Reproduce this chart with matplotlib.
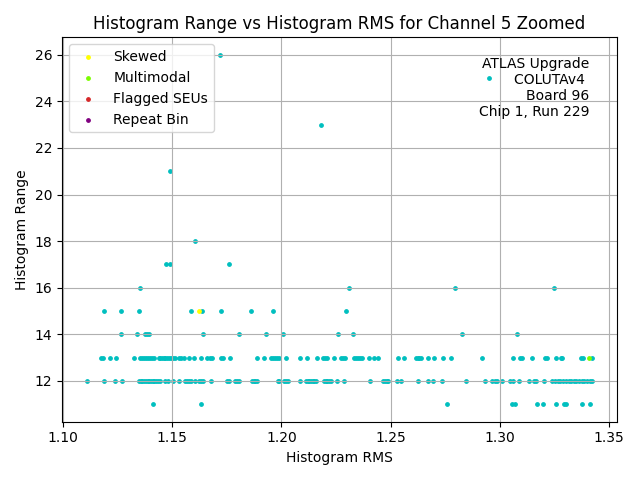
import numpy as np
import matplotlib
matplotlib.use("Agg")
import matplotlib.pyplot as plt

# Histogram RMS values grouped by histogram range (channel 5, zoomed)
rms_range_11 = [1.1411, 1.1630, 1.2757, 1.3058, 1.3069, 1.3173, 1.3199, 1.3257,
                1.3295, 1.3305, 1.3376, 1.3414]
rms_range_12 = [1.1110, 1.1188, 1.1239, 1.1271, 1.1348, 1.1356, 1.1363, 1.1371,
                1.1379, 1.1387, 1.1394, 1.1402, 1.1410, 1.1417, 1.1425, 1.1434,
                1.1443, 1.1468, 1.1480, 1.1502, 1.1532, 1.1560, 1.1569, 1.1578,
                1.1587, 1.1606, 1.1621, 1.1633, 1.1642, 1.1676, 1.1749, 1.1758,
                1.1787, 1.1798, 1.1807, 1.1864, 1.1872, 1.1879, 1.1887, 1.1982,
                1.1991, 1.2012, 1.2021, 1.2032, 1.2086, 1.2113, 1.2121, 1.2128,
                1.2136, 1.2144, 1.2151, 1.2159, 1.2193, 1.2202, 1.2211, 1.2220,
                1.2229, 1.2256, 1.2287, 1.2404, 1.2466, 1.2474, 1.2482, 1.2489,
                1.2528, 1.2550, 1.2624, 1.2673, 1.2693, 1.2734, 1.2844, 1.2931,
                1.2966, 1.2977, 1.2988, 1.3011, 1.3046, 1.3061, 1.3087, 1.3135,
                1.3158, 1.3168, 1.3203, 1.3242, 1.3254, 1.3266, 1.3278, 1.3291,
                1.3303, 1.3317, 1.3329, 1.3339, 1.3352, 1.3364, 1.3376, 1.3388,
                1.3401, 1.3413, 1.3421]
rms_range_13 = [1.1174, 1.1183, 1.1216, 1.1243, 1.1326, 1.1353, 1.1361, 1.1370,
                1.1379, 1.1388, 1.1398, 1.1407, 1.1416, 1.1437, 1.1445, 1.1453,
                1.1460, 1.1468, 1.1477, 1.1486, 1.1495, 1.1505, 1.1514, 1.1532,
                1.1541, 1.1554, 1.1575, 1.1598, 1.1633, 1.1657, 1.1673, 1.1682,
                1.1725, 1.1734, 1.1766, 1.1890, 1.1920, 1.1953, 1.1962, 1.1971,
                1.1980, 1.1989, 1.2020, 1.2083, 1.2115, 1.2161, 1.2190, 1.2200,
                1.2211, 1.2242, 1.2275, 1.2283, 1.2290, 1.2332, 1.2341, 1.2350,
                1.2359, 1.2367, 1.2399, 1.2425, 1.2443, 1.2535, 1.2563, 1.2616,
                1.2624, 1.2631, 1.2639, 1.2670, 1.2699, 1.2739, 1.2777, 1.2917,
                1.3060, 1.3095, 1.3102, 1.3147, 1.3208, 1.3217, 1.3257, 1.3280,
                1.3287, 1.3372, 1.3382, 1.3422]
rms_range_14 = [1.1266, 1.1339, 1.1373, 1.1384, 1.1394, 1.1642, 1.1807, 1.1931,
                1.2005, 1.2261, 1.2326, 1.2826, 1.3078]
rms_range_15 = [1.1188, 1.1266, 1.1348, 1.1587, 1.1635, 1.1725, 1.1862, 1.1959,
                1.2298]
rms_range_16 = [1.1353, 1.2309, 1.2794, 1.3248]
rms_range_17 = [1.1471, 1.1489, 1.1760]
rms_range_18 = [1.1606]
rms_range_21 = [1.1489]
rms_range_23 = [1.2182]
rms_range_25 = [1.2950]
rms_range_26 = [1.1720]

# flagged histograms
skewed_rms = [1.1620]
skewed_range = [15]
multimodal_rms = [1.3410]
multimodal_range = [13]
seu_rms = []
seu_range = []
repeat_rms = []
repeat_range = []

groups = {11: rms_range_11, 12: rms_range_12, 13: rms_range_13, 14: rms_range_14,
          15: rms_range_15, 16: rms_range_16, 17: rms_range_17, 18: rms_range_18,
          21: rms_range_21, 23: rms_range_23, 25: rms_range_25, 26: rms_range_26}
rms = np.concatenate([np.array(v) for v in groups.values()])
hist_range = np.concatenate([np.full(len(v), k) for k, v in groups.items()])

fig, ax = plt.subplots(figsize=(6.4, 4.8), dpi=100)
ax.scatter(rms, hist_range, s=6, color="c")
ax.scatter(skewed_rms, skewed_range, s=6, color="yellow", label="Skewed")
ax.scatter(multimodal_rms, multimodal_range, s=6, color="lawngreen", label="Multimodal")
ax.scatter(seu_rms, seu_range, s=6, color="tab:red", label="Flagged SEUs")
ax.scatter(repeat_rms, repeat_range, s=6, color="purple", label="Repeat Bin")

ax.set_title("Histogram Range vs Histogram RMS for Channel 5 Zoomed")
ax.set_xlabel("Histogram RMS")
ax.set_ylabel("Histogram Range")
ax.grid(True)
ax.legend(loc="upper left")
ax.text(0.95, 0.95, "ATLAS Upgrade\nCOLUTAv4 \nBoard 96\nChip 1, Run 229",
        transform=ax.transAxes, ha="right", va="top", multialignment="right")

plt.tight_layout()
plt.savefig("out.png")
